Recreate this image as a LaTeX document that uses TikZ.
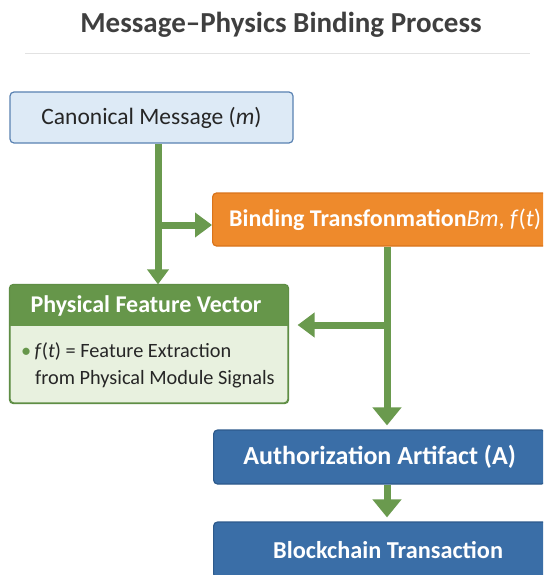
\documentclass[tikz,border=0pt]{standalone}
\usepackage{fontspec}
\setmainfont{Carlito}
\usetikzlibrary{arrows.meta,calc}

\definecolor{msgfill}{HTML}{DDEAF6}
\definecolor{msgline}{HTML}{5A82B2}
\definecolor{orangefill}{HTML}{EE8A2C}
\definecolor{orangeline}{HTML}{D9741C}
\definecolor{greenhead}{HTML}{66964A}
\definecolor{greenbody}{HTML}{E8F1DF}
\definecolor{greenline}{HTML}{5F8E45}
\definecolor{bluefill}{HTML}{3A6EA7}
\definecolor{blueline}{HTML}{2D5A8C}
\definecolor{flowgreen}{HTML}{6A9A4E}
\definecolor{titlegray}{HTML}{3F3F3F}
\definecolor{rulegray}{HTML}{E2E2E2}

\tikzset{
  basebox/.style={rectangle, rounded corners=4pt, line width=1.2pt, inner sep=0pt},
  msgbox/.style={basebox, fill=msgfill, draw=msgline, font=\fontsize{23.5}{28}\selectfont, text=black!85},
  bindbox/.style={basebox, fill=orangefill, draw=orangeline},
  featbox/.style={basebox, fill=greenbody, draw=greenline},
  chainbox/.style={basebox, fill=bluefill, draw=blueline, text=white},
  plain/.style={draw=flowgreen, line width=7pt},
  flow/.style={plain, -{Triangle[width=24pt,length=17pt]}},
  bigflow/.style={plain, -{Triangle[width=28pt,length=18pt]}},
  smallflow/.style={plain, -{Triangle[width=21pt,length=15pt]}}
}

\begin{document}
\begin{tikzpicture}[x=1pt,y=-1pt]
\clip (0,0) rectangle (543,575);
\useasboundingbox (0,0) rectangle (543,575);
\fill[white] (0,0) rectangle (543,575);

% title and rule
\node[font=\bfseries\fontsize{29}{34}\selectfont, text=titlegray] (title) at (281,25) {Message–Physics Binding Process};
\draw[rulegray, line width=1pt] (25,54) -- (530,54);

% boxes
\node[msgbox, minimum width=283pt, minimum height=51pt] (cm) at (151.5,117.5) {Canonical Message (\textit{m})};
\node[bindbox, minimum width=338pt, minimum height=53pt, anchor=west] (bt) at (212,219.5) {};
\node[font=\bfseries\fontsize{24}{28}\selectfont, text=white, anchor=west, inner sep=0pt] (btlabel) at (229,219.5)
  {Binding Transfonmation\textit{\mdseries Bm}\textnormal{,} \textit{\mdseries f}\textnormal{(}\textit{\mdseries t}\textnormal{)}};

\node[featbox, minimum width=278pt, minimum height=118pt] (pfv) at (149,344) {};
\begin{scope}
  \clip[rounded corners=4pt] (pfv.north west) rectangle (pfv.south east);
  \fill[greenhead] (pfv.north west) rectangle ($(pfv.north east)+(0,42)$);
\end{scope}
\draw[greenline, line width=1.2pt, rounded corners=4pt] (pfv.north west) rectangle (pfv.south east);
\node[font=\bfseries\fontsize{24}{28}\selectfont, text=white] (pfvtitle) at (146,306) {Physical Feature Vector};
\node[font=\fontsize{20.3}{24}\selectfont, text=black!85, anchor=west, inner sep=0pt] (pfvl1) at (21,351)
  {{\color{greenhead}\textbullet}\,\textit{f}(\textit{t}) = Feature Extraction};
\node[font=\fontsize{20.3}{24}\selectfont, text=black!85, anchor=west, inner sep=0pt] (pfvl2) at (35,379)
  {from Physical Module Signals};

\node[chainbox, minimum width=332pt, minimum height=54pt, anchor=west, font=\bfseries\fontsize{26}{30}\selectfont] (aa) at (213,457) {Authorization Artifact (A)};
\node[chainbox, minimum width=349pt, minimum height=56pt, anchor=west, font=\bfseries\fontsize{24.3}{28}\selectfont] (bc) at (213,550) {Blockchain Transaction};

% junctions of the flow lines
\coordinate (j1) at (158,225);
\coordinate (j2) at (387,325);

% connectors
\draw[plain] (cm.south -| j1) -- (j1);
\draw[smallflow] (j1) -- (pfv.north -| j1);
\draw[flow] (j1) -- (bt.west |- j1);
\draw[plain] (bt.south -| j2) -- (j2);
\draw[flow, shorten >=9pt] (j2) -- (pfv.east |- j2);
\draw[bigflow, shorten >=4pt] (j2) -- (aa.north -| j2);
\draw[bigflow, shorten >=4pt] (aa.south -| j2) -- (bc.north -| j2);
\end{tikzpicture}
\end{document}
